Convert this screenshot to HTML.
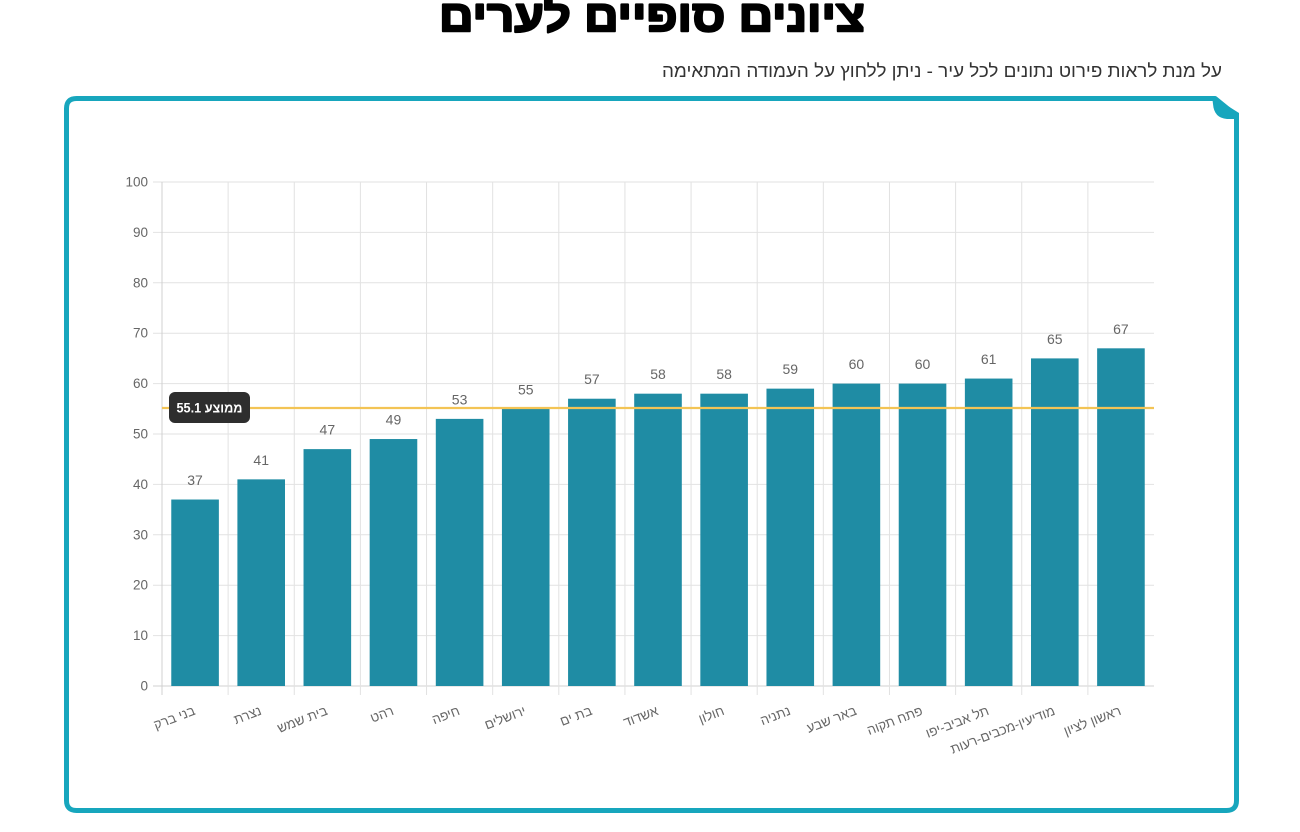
<!DOCTYPE html>
<html>
<head>
<meta charset="utf-8">
<style>
html,body{margin:0;padding:0;background:#fff;}
body{width:1300px;height:832px;overflow:hidden;}
svg{display:block;}
</style>
</head>
<body>
<svg width="1300" height="832" viewBox="0 0 1300 832" xmlns="http://www.w3.org/2000/svg">
  <!-- Title -->
  <text x="652" y="31" text-anchor="middle" font-family="'Liberation Sans','DejaVu Sans',sans-serif" font-weight="bold" font-size="44" fill="#000" stroke="#000" stroke-width="2.2" stroke-linejoin="round" textLength="426" lengthAdjust="spacingAndGlyphs">ציונים סופיים לערים</text>
  <!-- Subtitle -->
  <text x="1222" y="77" text-anchor="end" font-family="'Liberation Sans','DejaVu Sans',sans-serif" font-size="18" fill="#333" textLength="560" lengthAdjust="spacingAndGlyphs">על מנת לראות פירוט נתונים לכל עיר - ניתן ללחוץ על העמודה המתאימה</text>

  <!-- Frame -->
  <path d="M1215,98.5 L76.5,98.5 Q66.5,98.5 66.5,108.5 L66.5,800.5 Q66.5,810.5 76.5,810.5 L1226.5,810.5 Q1236.5,810.5 1236.5,800.5 L1236.5,116 Z" fill="none" stroke="#17a6bd" stroke-width="5" stroke-linejoin="round"/>
  <path d="M1212,96 L1239,113 L1239,119 L1227,119 Q1214,118 1213,104 Z" fill="#17a6bd"/>

  <!-- Gridlines horizontal -->
  <g stroke="#e2e2e2" stroke-width="1">
    <line x1="153" y1="686" x2="1154" y2="686" stroke="#d0d0d0"/>
    <line x1="153" y1="635.6" x2="1154" y2="635.6"/>
    <line x1="153" y1="585.2" x2="1154" y2="585.2"/>
    <line x1="153" y1="534.8" x2="1154" y2="534.8"/>
    <line x1="153" y1="484.4" x2="1154" y2="484.4"/>
    <line x1="153" y1="434" x2="1154" y2="434"/>
    <line x1="153" y1="383.6" x2="1154" y2="383.6"/>
    <line x1="153" y1="333.2" x2="1154" y2="333.2"/>
    <line x1="153" y1="282.8" x2="1154" y2="282.8"/>
    <line x1="153" y1="232.4" x2="1154" y2="232.4"/>
    <line x1="153" y1="182" x2="1154" y2="182"/>
  </g>
  <!-- Gridlines vertical -->
  <g stroke="#e2e2e2" stroke-width="1">
    <line x1="162" y1="182" x2="162" y2="695" stroke="#d0d0d0"/>
    <line x1="228.13" y1="182" x2="228.13" y2="695"/>
    <line x1="294.27" y1="182" x2="294.27" y2="695"/>
    <line x1="360.4" y1="182" x2="360.4" y2="695"/>
    <line x1="426.53" y1="182" x2="426.53" y2="695"/>
    <line x1="492.67" y1="182" x2="492.67" y2="695"/>
    <line x1="558.8" y1="182" x2="558.8" y2="695"/>
    <line x1="624.93" y1="182" x2="624.93" y2="695"/>
    <line x1="691.07" y1="182" x2="691.07" y2="695"/>
    <line x1="757.2" y1="182" x2="757.2" y2="695"/>
    <line x1="823.33" y1="182" x2="823.33" y2="695"/>
    <line x1="889.47" y1="182" x2="889.47" y2="695"/>
    <line x1="955.6" y1="182" x2="955.6" y2="695"/>
    <line x1="1021.73" y1="182" x2="1021.73" y2="695"/>
    <line x1="1087.87" y1="182" x2="1087.87" y2="695"/>
  </g>

  <!-- Y tick labels -->
  <g font-family="'Liberation Sans','DejaVu Sans',sans-serif" font-size="13.5" fill="#666" text-anchor="end" dominant-baseline="central">
    <text x="148" y="686">0</text>
    <text x="148" y="635.6">10</text>
    <text x="148" y="585.2">20</text>
    <text x="148" y="534.8">30</text>
    <text x="148" y="484.4">40</text>
    <text x="148" y="434">50</text>
    <text x="148" y="383.6">60</text>
    <text x="148" y="333.2">70</text>
    <text x="148" y="282.8">80</text>
    <text x="148" y="232.4">90</text>
    <text x="148" y="182">100</text>
  </g>

  <!-- Bars -->
  <g fill="#1f8ca4">
    <rect x="171.27" y="499.52" width="47.6" height="186.48"/>
    <rect x="237.4" y="479.36" width="47.6" height="206.64"/>
    <rect x="303.53" y="449.12" width="47.6" height="236.88"/>
    <rect x="369.67" y="439.04" width="47.6" height="246.96"/>
    <rect x="435.8" y="418.88" width="47.6" height="267.12"/>
    <rect x="501.93" y="408.8" width="47.6" height="277.2"/>
    <rect x="568.07" y="398.72" width="47.6" height="287.28"/>
    <rect x="634.2" y="393.68" width="47.6" height="292.32"/>
    <rect x="700.33" y="393.68" width="47.6" height="292.32"/>
    <rect x="766.47" y="388.64" width="47.6" height="297.36"/>
    <rect x="832.6" y="383.6" width="47.6" height="302.4"/>
    <rect x="898.73" y="383.6" width="47.6" height="302.4"/>
    <rect x="964.87" y="378.56" width="47.6" height="307.44"/>
    <rect x="1031" y="358.4" width="47.6" height="327.6"/>
    <rect x="1097.13" y="348.32" width="47.6" height="337.68"/>
  </g>

  <!-- Value labels -->
  <g font-family="'Liberation Sans','DejaVu Sans',sans-serif" font-size="14" fill="#666" text-anchor="middle">
    <text x="195.07" y="485">37</text>
    <text x="261.2" y="464.9">41</text>
    <text x="327.33" y="434.6">47</text>
    <text x="393.47" y="424.5">49</text>
    <text x="459.6" y="404.4">53</text>
    <text x="525.73" y="394.3">55</text>
    <text x="591.87" y="384.2">57</text>
    <text x="658" y="379.2">58</text>
    <text x="724.13" y="379.2">58</text>
    <text x="790.27" y="374.1">59</text>
    <text x="856.4" y="369.1">60</text>
    <text x="922.53" y="369.1">60</text>
    <text x="988.67" y="364.1">61</text>
    <text x="1054.8" y="343.9">65</text>
    <text x="1120.93" y="333.8">67</text>
  </g>

  <!-- Average line -->
  <line x1="162" y1="408" x2="1154" y2="408" stroke="#f3c455" stroke-width="2.2"/>
  <rect x="169" y="392" width="81" height="31" rx="6" ry="6" fill="#2e2e2e"/>
  <text x="209.5" y="412.5" text-anchor="middle" font-family="'Liberation Sans','DejaVu Sans',sans-serif" font-weight="bold" font-size="13.5" fill="#fff" textLength="66" lengthAdjust="spacingAndGlyphs">55.1 ממוצע</text>

  <!-- X labels -->
  <g font-family="'Liberation Sans','DejaVu Sans',sans-serif" font-size="13.3" fill="#666" text-anchor="end" dominant-baseline="central">
    <text transform="translate(194.5,710) rotate(-21)">בני ברק</text>
    <text transform="translate(260.7,710) rotate(-21)">נצרת</text>
    <text transform="translate(326.8,710) rotate(-21)">בית שמש</text>
    <text transform="translate(393,710) rotate(-21)">רהט</text>
    <text transform="translate(459.1,710) rotate(-21)">חיפה</text>
    <text transform="translate(525.2,710) rotate(-21)">ירושלים</text>
    <text transform="translate(591.4,710) rotate(-21)">בת ים</text>
    <text transform="translate(657.5,710) rotate(-21)">אשדוד</text>
    <text transform="translate(723.6,710) rotate(-21)">חולון</text>
    <text transform="translate(789.8,710) rotate(-21)">נתניה</text>
    <text transform="translate(855.9,710) rotate(-21)">באר שבע</text>
    <text transform="translate(922,710) rotate(-21)">פתח תקוה</text>
    <text transform="translate(988.2,710) rotate(-21)">תל אביב-יפו</text>
    <text transform="translate(1054.3,710) rotate(-21)">מודיעין-מכבים-רעות</text>
    <text transform="translate(1120.4,710) rotate(-21)">ראשון לציון</text>
  </g>
</svg>
</body>
</html>
